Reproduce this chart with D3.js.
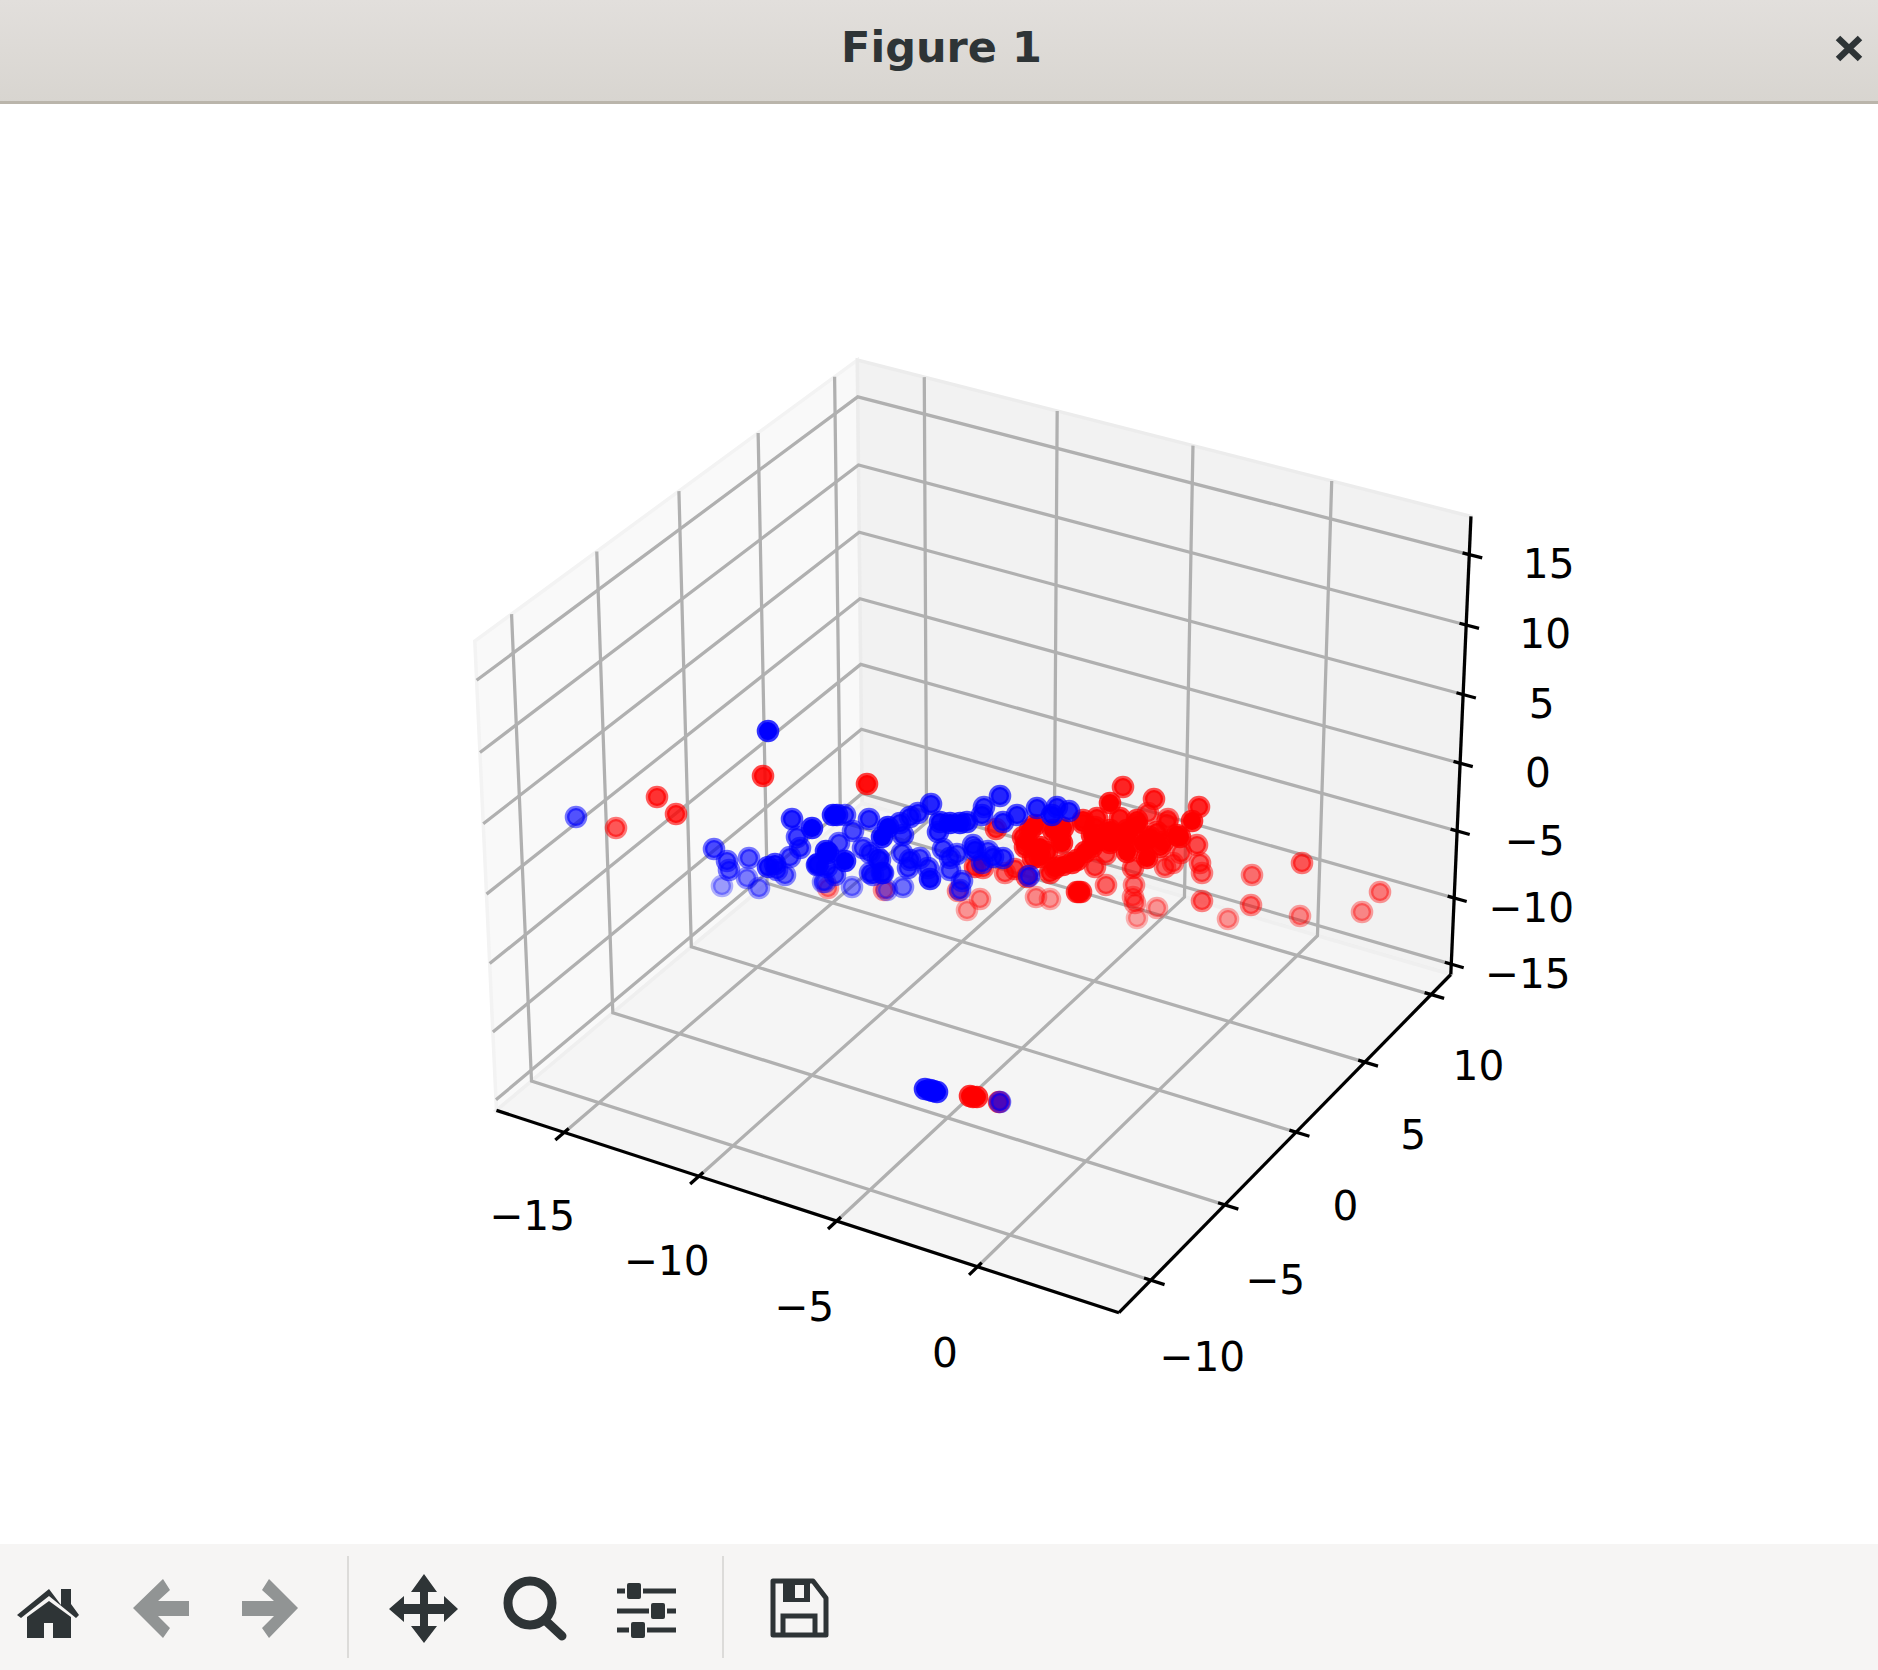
<!DOCTYPE html>
<html><head><meta charset="utf-8">
<script src="https://cdnjs.cloudflare.com/ajax/libs/d3/7.8.5/d3.min.js"></script>
<style>html,body{margin:0;padding:0;background:#fff}svg{display:block}text{font-family:"DejaVu Sans",sans-serif}</style>
</head><body><svg id="c" width="1878" height="1670"></svg>
<script>
// axis ticks and limits
const xTicks=[-15,-10,-5,0], yTicks=[-10,-5,0,5,10], zTicks=[-15,-10,-5,0,5,10,15];
const xLim=[-17.56,4.91], yLim=[-12.1,11.52], zLim=[-15.79,17.68];
const fmt=v=>(v<0?"\u2212":"")+Math.abs(v);

// points as seen on the picture plane, with the depth shade of each one
const redX=[999,970,973,977,616,657,676,763,867,828,884,958,980,967,1036,1050,996,975,983,1005,1015,1027,1077,
1123,1110,1154,1148,1199,1192,1168,1167,1180,1197,1200,1202,1181,1173,1165,1147,1133,1106,1095,1106,1079,1081,1134,1133,1135,1137,1157,1202,1228,1251,1252,1302,1380,1362,1300,
1030,1027,1060,1040,1055,1072,1092,1095,1110,1137,1127,1150,1163,1083,1050,1127,1113,1100,1047,1062,1023,1035,1053,1063,1092,1085,1077,1063,1040,1033,1120,1137,1097,1083,1160,1177,1157,1110,1143,1127,1025];
const redY=[1102,1096,1097,1097,828,797,814,776,784,888,890,891,899,910,897,899,829,867,868,873,869,877,892,
787,803,799,813,807,821,819,823,837,845,863,873,853,863,867,858,868,854,867,885,892,892,885,897,903,918,908,901,919,905,875,863,892,912,916,
830,842,837,857,868,863,847,827,830,825,837,837,842,823,873,852,840,840,852,843,837,825,830,828,835,852,860,865,847,858,818,820,818,820,847,835,832,843,843,830,847];
const redShade=[.9,1,1,1,.65,.8,.8,.9,.95,.45,.5,.55,.45,.4,.45,.4,.8,.8,.7,.6,.75,.8,.9,
.85,1,.85,.7,.85,1,.7,.7,1,.7,.65,.6,.65,.6,.6,1,.7,.7,.7,.6,.9,.9,.55,.5,.5,.35,.4,.6,.4,.55,.55,.65,.5,.45,.45,
1,.95,1,1,1,1,1,.9,1,1,1,1,.95,.9,.85,1,1,1,.95,1,.9,1,1,1,1,1,1,1,1,.95,.9,.95,.9,.9,.95,1,.9,1,1,1,.9];

const blueX=[925,930,933,937,1000,576,768,714,727,729,722,749,747,759,768,775,777,785,790,800,797,792,812,833,837,845,853,869,839,826,828,845,817,827,823,835,852,863,870,880,873,883,882,888,900,903,910,918,931,902,910,920,908,928,930,903,887,943,938,940,950,960,967,982,984,1000,950,957,950,962,960,973,975,988,982,993,1003,1003,1017,1037,1052,1057,1069,1029,818,878,882,870,825];
const blueY=[1089,1090,1091,1092,1102,817,731,849,861,870,886,858,878,888,867,864,870,875,857,848,837,819,828,815,815,815,831,819,843,851,853,861,865,867,882,875,887,848,853,860,875,873,837,827,823,835,817,813,804,853,860,858,868,868,879,887,890,849,832,822,823,823,822,815,807,796,858,854,870,881,890,845,850,851,863,857,858,822,815,808,815,807,811,876,864,858,873,873,882];
const blueShade=[1,1,1,1,.7,.67,1,.7,.7,.65,.38,.65,.5,.48,.9,.9,.7,.6,.7,.75,.75,.85,1,1,1,.75,.7,.8,.7,1,1,1,.9,.8,.5,.7,.48,.7,.7,.75,.7,.8,1,1,.85,.8,.85,.8,.85,.7,.8,.7,.75,.75,.95,.55,.45,.75,.85,.95,1,1,.9,.85,.8,.85,.75,.7,.7,.7,.65,.75,.85,.7,.75,.8,.8,.85,.85,.85,.95,.85,.85,.75,.9,.75,.75,.7,.5];

const W=1878,H=1670;
const svg=d3.select("#c");

// mplot3d-style projection: elev 30, azim -60, dist 10, box aspect 4:4:3
const bx=.5714,bz=.4286;
const sx=d3.scaleLinear(xLim,[-bx,bx]), sy=d3.scaleLinear(yLim,[-bx,bx]), sz=d3.scaleLinear(zLim,[-bz,bz]);
const U=[.8660,.5,0],V=[-.25,.4330,.8660],N=[.4330,-.75,.5];
const px=d3.scaleLinear([-.1,.1],[982.1-624.24,982.1+624.24]);
const py=d3.scaleLinear([-.1,.1],[814.4+624.24,814.4-624.24]);
const dot=(a,b)=>a[0]*b[0]+a[1]*b[1]+a[2]*b[2];
function box(p){const d=10-dot(p,N);return [px(dot(p,U)/d),py(dot(p,V)/d)];}
const proj=(x,y,z,ox=0,oy=0,oz=0)=>box([sx(x)+ox,sy(y)+oy,sz(z)+oz]);
const line=d3.line();
const [x0,x1]=xLim,[y0,y1]=yLim,[z0,z1]=zLim;

// page
svg.append("rect").attr("width",W).attr("height",H).attr("fill","#fff");

// panes
const panes=[
 {c:"#f9f9f9",e:"#f3f3f3",p:[proj(x0,y0,z0),proj(x0,y1,z0),proj(x0,y1,z1),proj(x0,y0,z1)]},
 {c:"#f2f2f2",e:"#ececec",p:[proj(x0,y1,z0),proj(x1,y1,z0),proj(x1,y1,z1),proj(x0,y1,z1)]},
 {c:"#f5f5f5",e:"#efefef",p:[proj(x0,y0,z0),proj(x1,y0,z0),proj(x1,y1,z0),proj(x0,y1,z0)]}];
svg.append("g").selectAll("path").data(panes).join("path")
 .attr("d",d=>line(d.p)+"Z").attr("fill",d=>d.c).attr("stroke",d=>d.e).attr("stroke-width",3.5);

// grid
const grid=svg.append("g").attr("fill","none").attr("stroke","#b0b0b0").attr("stroke-width",3.26);
const gridLines=[
 ...xTicks.map(t=>[proj(t,y0,z0),proj(t,y1,z0),proj(t,y1,z1)]),
 ...yTicks.map(t=>[proj(x1,t,z0),proj(x0,t,z0),proj(x0,t,z1)]),
 ...zTicks.map(t=>[proj(x1,y1,t),proj(x0,y1,t),proj(x0,y0,t)])];
grid.selectAll("path").data(gridLines).join("path").attr("d",d=>line(d));

// axis lines
const ax=svg.append("g").attr("fill","none").attr("stroke","#000").attr("stroke-width",3.26);
ax.selectAll("path.a").data([
 [proj(x0,y0,z0),proj(x1,y0,z0)],
 [proj(x1,y0,z0),proj(x1,y1,z0)],
 [proj(x1,y1,z0),proj(x1,y1,z1)]]).join("path").attr("class","a").attr("d",d=>line(d));
// ticks
const tickSegs=[
 ...xTicks.map(t=>[proj(t,y0,z0,0,.013,0),proj(t,y0,z0,0,-.026,0)]),
 ...yTicks.map(t=>[proj(x1,t,z0,-.012,0,0),proj(x1,t,z0,.024,0,0)]),
 ...zTicks.map(t=>[proj(x1,y1,t,-.012,0,0),proj(x1,y1,t,.023,0,0)])];
ax.selectAll("path.t").data(tickSegs).join("path").attr("class","t").attr("d",d=>line(d));

// tick labels
const labels=[
 ...xTicks.map(t=>({t,p:proj(t,y0,z0,-.005,-.092,-.107)})),
 ...yTicks.map(t=>({t,p:proj(x1,t,z0,.092,0,-.109)})),
 ...zTicks.map(t=>({t,p:proj(x1,y1,t,.1173,.0497,-.0073)}))];
svg.append("g").selectAll("text").data(labels).join("text")
 .attr("x",d=>d.p[0]).attr("y",d=>d.p[1]+14.9).attr("text-anchor","middle")
 .attr("font-size",40.7).attr("fill","#000").text(d=>fmt(d.t));

// scatter
const planeX=d3.scaleLinear([0,W],[0,W]), planeY=d3.scaleLinear([0,H],[0,H]);
const shade=d3.scaleLinear([0,1],[0,1]);
const R=9,SW=4.6;
function series(xs,ys,ss,color){
 const pts=d3.range(xs.length).map(i=>({x:xs[i],y:ys[i],s:ss[i]})).sort((a,b)=>a.s-b.s);
 svg.append("g").selectAll("circle").data(pts).join("circle")
  .attr("cx",d=>planeX(d.x)).attr("cy",d=>planeY(d.y)).attr("r",R)
  .attr("fill",color).attr("stroke",color).attr("stroke-width",SW)
  .attr("fill-opacity",d=>shade(d.s)).attr("stroke-opacity",d=>shade(d.s)*.8);
}
series(redX,redY,redShade,"#ff0000");
series(blueX,blueY,blueShade,"#0000ff");

// window title bar
const defs=svg.append("defs");
const gr=defs.append("linearGradient").attr("id","tb").attr("x1",0).attr("x2",0).attr("y1",0).attr("y2",1);
gr.append("stop").attr("offset",0).attr("stop-color","#e2dfdc");
gr.append("stop").attr("offset",1).attr("stop-color","#d8d5d0");
svg.append("rect").attr("width",W).attr("height",101).attr("fill","url(#tb)");
svg.append("rect").attr("y",101).attr("width",W).attr("height",3).attr("fill","#bab5ab");
svg.append("text").attr("x",941.5).attr("y",62).attr("text-anchor","middle").attr("font-size",43)
 .attr("font-weight","bold").attr("fill","#2e3436").text("Figure 1");
svg.append("path").attr("d","M1838,38L1860,59M1860,38L1838,59").attr("stroke","#2e3436").attr("stroke-width",6.5).attr("fill","none");

// toolbar
const tb=svg.append("g");
tb.append("rect").attr("y",1544).attr("width",W).attr("height",126).attr("fill","#f6f5f4");
[347,722].forEach(x=>tb.append("rect").attr("x",x).attr("y",1556).attr("width",2).attr("height",102).attr("fill","#dcdbd9"));
const dark="#2e3436",grey="#919494";
// home
tb.append("path").attr("fill",dark).attr("d","M49,1589L61,1605V1589H71V1604L79,1615L76,1618L49,1596L21,1618L17,1615Z");
tb.append("path").attr("fill",dark).attr("d","M49,1601L71,1617V1638H53V1623H44V1638H27V1617Z");
// back / forward
tb.append("path").attr("fill",grey).attr("d","M163,1579L170,1590L158,1601H189V1616H158L170,1628L163,1638L133,1608Z");
tb.append("path").attr("fill",grey).attr("d","M269,1579L262,1590L274,1601H242V1616H274L262,1628L269,1638L298,1608Z");
// move
tb.append("path").attr("fill",dark).attr("d","M424,1574L437,1592H428V1604H444V1596L458,1609L444,1622V1614H428V1626H437L424,1643L411,1626H420V1614H404V1622L389,1609L404,1596V1604H420V1592H411Z");
// magnifier
tb.append("circle").attr("cx",530).attr("cy",1603).attr("r",22).attr("fill","none").attr("stroke",dark).attr("stroke-width",9);
tb.append("path").attr("d","M547,1622L562,1636").attr("stroke",dark).attr("stroke-width",9).attr("stroke-linecap","round");
// sliders
[[1591,634],[1611,658],[1630,638]].forEach(([y,x])=>{
 tb.append("path").attr("d",`M617,${y}H676`).attr("stroke",dark).attr("stroke-width",5);
 tb.append("rect").attr("x",x-9).attr("y",y-8).attr("width",18).attr("height",16).attr("fill","#f6f5f4");
 tb.append("rect").attr("x",x-7).attr("y",y-8).attr("width",14).attr("height",16).attr("rx",2).attr("fill",dark);
});
// save
tb.append("path").attr("fill","none").attr("stroke",dark).attr("stroke-width",5).attr("stroke-linejoin","round")
 .attr("d","M773,1581H813L826,1598V1635H773Z");
tb.append("path").attr("fill",dark).attr("d","M783,1581H810V1602H783Z");
tb.append("rect").attr("x",795).attr("y",1585).attr("width",9).attr("height",13).attr("fill","#f6f5f4");
tb.append("path").attr("fill","none").attr("stroke",dark).attr("stroke-width",5).attr("d","M783,1635V1616H815V1635");
</script></body></html>
